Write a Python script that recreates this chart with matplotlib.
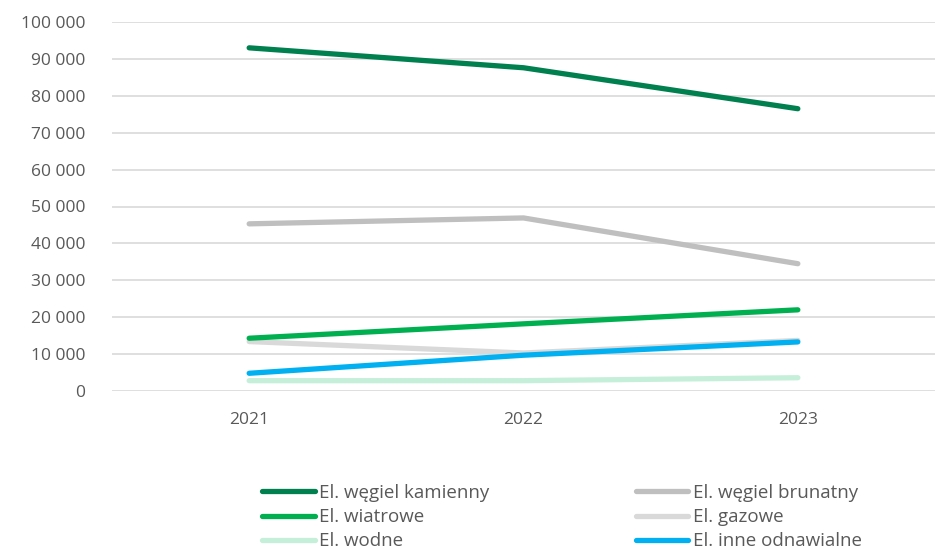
import matplotlib
matplotlib.use("Agg")
import matplotlib.pyplot as plt
from matplotlib.ticker import FuncFormatter

years = ["2021", "2022", "2023"]
kamienny = [93000, 87600, 76500]
brunatny = [45300, 46900, 34500]
wiatrowe = [14300, 18200, 22000]
gazowe = [13400, 10300, 13700]
wodne = [2800, 2800, 3600]
inne = [4800, 9700, 13300]

labels = ["El. węgiel kamienny", "El. węgiel brunatny", "El. wiatrowe",
          "El. gazowe", "El. wodne", "El. inne odnawialne"]
series = [kamienny, brunatny, wiatrowe, gazowe, wodne, inne]
colors = ["#00804f", "#bfbfbf", "#00b050", "#d9d9d9", "#c6efda", "#00b0f0"]
zorders = [4, 3, 5, 2, 3, 6]

plt.rcParams['font.family'] = ['Open Sans', 'DejaVu Sans']
text_color = "#595959"

fig = plt.figure(figsize=(9.36, 5.49), dpi=100)
ax = fig.add_axes([112/936, 1 - 391/549, (935-112)/936, (391-22)/549])

x = [0.5, 1.5, 2.5]
handles = []
for s, lab, c, z in zip(series, labels, colors, zorders):
    h, = ax.plot(x, s, color=c, lw=3.8, solid_capstyle='round', label=lab, zorder=z)
    handles.append(h)

ax.set_xlim(0, 3)
ax.set_ylim(0, 100000)
ax.set_yticks(range(0, 100001, 10000))
ax.yaxis.set_major_formatter(FuncFormatter(lambda v, p: f"{int(v):,}".replace(",", " ")))
ax.set_xticks(x)
ax.set_xticklabels(years)
ax.grid(axis='y', color='#d9d9d9', lw=1.2, zorder=0)
ax.set_axisbelow(True)
for sp in ax.spines.values():
    sp.set_visible(False)
ax.tick_params(axis='both', length=0, labelsize=12.5, colors=text_color)
ax.tick_params(axis='y', pad=19)
ax.tick_params(axis='x', pad=15)

order = [0, 2, 4, 1, 3, 5]
leg = fig.legend([handles[i] for i in order], [labels[i] for i in order],
                 ncol=2, frameon=False, loc='upper left',
                 bbox_to_anchor=(262/936, 1 - 484/549),
                 fontsize=13.5, handlelength=2.8, handletextpad=0.25,
                 columnspacing=7.8, labelspacing=0.33, labelcolor=text_color,
                 borderpad=0, borderaxespad=0)

fig.savefig("out.png", dpi=100)
